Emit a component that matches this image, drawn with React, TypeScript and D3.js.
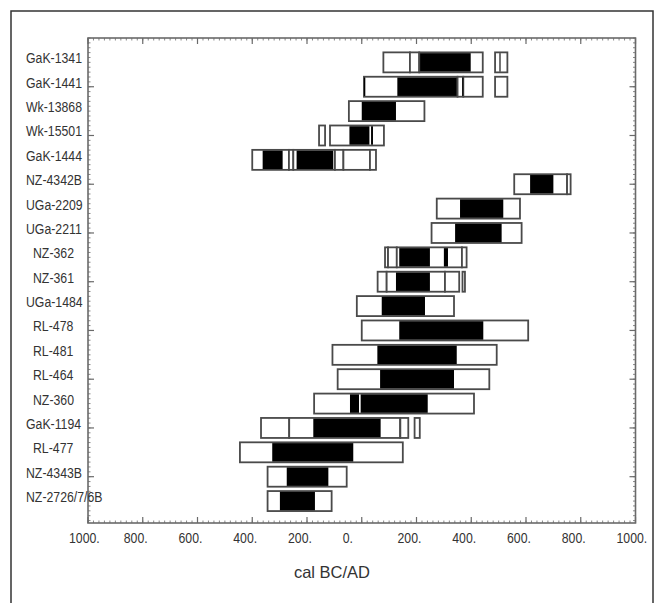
import React from "react";
import * as d3 from "d3";

const labels = [
  "GaK-1341", "GaK-1441", "Wk-13868", "Wk-15501", "GaK-1444", "NZ-4342B",
  "UGa-2209", "UGa-2211", "NZ-362", "NZ-361", "UGa-1484", "RL-478",
  "RL-481", "RL-464", "NZ-360", "GaK-1194", "RL-477", "NZ-4343B", "NZ-2726/7/6B",
];

// 95% (2 sigma) calibrated ranges, cal BC (negative) / AD (positive)
const twoSigma: number[][][] = [
  [[79, 176], [176, 210], [210, 442], [487, 532]],
  [[8, 350], [350, 371], [371, 442], [487, 532]],
  [[-47, 229]],
  [[-156, -134], [-116, 81]],
  [[-400, -266], [-266, -250], [-250, -98], [-98, -67], [-67, 30], [30, 52]],
  [[557, 750], [750, 763]],
  [[274, 578]],
  [[255, 584]],
  [[85, 96], [96, 128], [128, 366], [366, 383]],
  [[58, 91], [91, 304], [304, 356], [368, 377]],
  [[-18, 337]],
  [[0, 608]],
  [[-107, 493]],
  [[-88, 466]],
  [[-174, 410]],
  [[-368, -265], [-265, 140], [141, 170], [193, 212]],
  [[-445, 150]],
  [[-344, -55]],
  [[-344, -110]],
];

// 68% (1 sigma) calibrated ranges
const oneSigma: number[][][] = [
  [[213, 398], [503, 507]],
  [[8, 13], [130, 347], [367, 371]],
  [[0, 125]],
  [[-45, 28], [34, 41]],
  [[-362, -289], [-238, -104]],
  [[615, 700]],
  [[359, 517]],
  [[341, 511]],
  [[137, 249], [300, 315]],
  [[125, 249]],
  [[73, 231]],
  [[137, 444]],
  [[57, 347]],
  [[67, 337]],
  [[-43, -10], [-4, 241]],
  [[-177, 69]],
  [[-327, -31]],
  [[-274, -122]],
  [[-299, -171]],
];

const xTickValues = [-1000, -800, -600, -400, -200, 0, 200, 400, 600, 800, 1000];
const xTickLabels = ["1000.", "800.", "600.", "400.", "200.", "0.", "200.", "400.", "600.", "800.", "1000."];
const xAxisTitle = "cal BC/AD";

export default function App() {
  const W = 660;
  const H = 603;
  const x = d3.scaleLinear().domain([-1000, 1000]).range([88, 635.5]);
  const y = d3.scaleLinear().domain([-1, 18.9]).range([38, 523]);
  const [x0, x1] = x.range();
  const [yTop, yBot] = y.range();
  const barH = 20;
  const font = "'Liberation Sans', Arial, sans-serif";
  const narrow = 0.82;
  const axisColor = "#6a6a6a";
  const textColor = "#333";

  const minorX = d3.range(-1000, 1001, 20);
  const minorY = d3.range(-1, 18.9, 0.2);
  const majorY = d3.range(1, 18, 2);

  return (
    <svg width={W} height={H} style={{ position: "absolute", left: 0, top: 0, display: "block", background: "#fff" }}>
      <rect x={11} y={11} width={642} height={620} fill="none" stroke="#333" strokeWidth={1.5} />

      {/* bars */}
      {labels.map((lab, i) => (
        <g key={lab}>
          {twoSigma[i].map(([a, b], j) => (
            <rect key={"o" + j} x={x(a)} y={y(i) - barH / 2} width={x(b) - x(a)} height={barH}
              fill="#fff" stroke="#4a4a4a" strokeWidth={1.8} />
          ))}
          {oneSigma[i].map(([a, b], j) => (
            <rect key={"b" + j} x={x(a)} y={y(i) - barH / 2 + 0.8} width={x(b) - x(a)} height={barH - 1.6}
              fill="#000" />
          ))}
        </g>
      ))}

      {/* frame */}
      <rect x={x0} y={yTop} width={x1 - x0} height={yBot - yTop} fill="none" stroke={axisColor} strokeWidth={1.6} />
      {minorX.map((v) => (
        <g key={"mx" + v}>
          <line x1={x(v)} x2={x(v)} y1={yTop} y2={yTop + 2.5} stroke={axisColor} strokeWidth={0.8} />
          <line x1={x(v)} x2={x(v)} y1={yBot} y2={yBot - 2.5} stroke={axisColor} strokeWidth={0.8} />
        </g>
      ))}
      {xTickValues.map((v) => (
        <g key={"Mx" + v}>
          <line x1={x(v)} x2={x(v)} y1={yTop} y2={yTop + 6} stroke={axisColor} strokeWidth={1.2} />
          <line x1={x(v)} x2={x(v)} y1={yBot} y2={yBot - 6} stroke={axisColor} strokeWidth={1.2} />
        </g>
      ))}
      {minorY.map((v, k) => (
        <g key={"my" + k}>
          <line x1={x0} x2={x0 + 2.5} y1={y(v)} y2={y(v)} stroke={axisColor} strokeWidth={0.8} />
          <line x1={x1} x2={x1 - 2.5} y1={y(v)} y2={y(v)} stroke={axisColor} strokeWidth={0.8} />
        </g>
      ))}
      {majorY.map((v) => (
        <g key={"My" + v}>
          <line x1={x0} x2={x0 + 6} y1={y(v)} y2={y(v)} stroke={axisColor} strokeWidth={1.2} />
          <line x1={x1} x2={x1 - 6} y1={y(v)} y2={y(v)} stroke={axisColor} strokeWidth={1.2} />
        </g>
      ))}

      {/* x tick labels */}
      {xTickValues.map((v, i) => (
        <text key={"xl" + v} transform={`translate(${x(v) - 19},543) scale(${narrow},1)`}
          fontFamily={font} fontSize={15} fill={textColor} textAnchor="start">
          {xTickLabels[i]}
        </text>
      ))}

      {/* y labels */}
      {labels.map((lab, i) => (
        <text key={"yl" + lab} transform={`translate(${lab.length <= 6 ? 33 : 26},${y(i) + 1}) scale(${narrow},1)`}
          fontFamily={font} fontSize={15} fill={textColor}>
          {lab}
        </text>
      ))}

      <text x={332} y={578} fontFamily={font} fontSize={16.5} fill={textColor} textAnchor="middle">
        {xAxisTitle}
      </text>
    </svg>
  );
}
